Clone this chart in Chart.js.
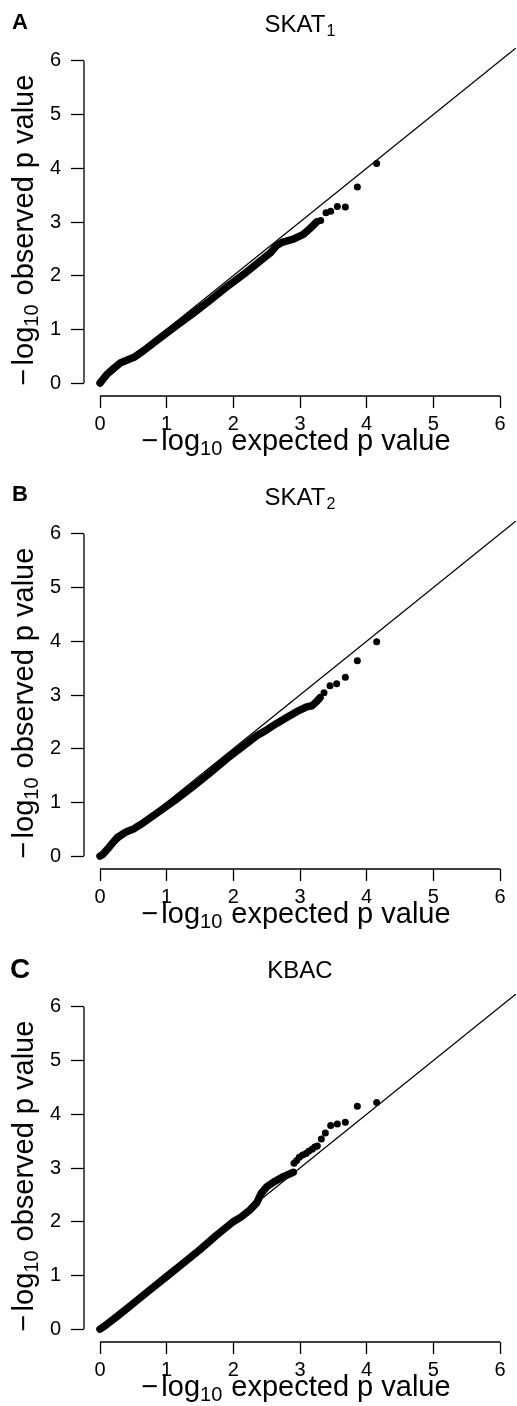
<!DOCTYPE html>
<html>
<head>
<meta charset="utf-8">
<script src="https://cdn.jsdelivr.net/npm/chart.js@4.4.0/dist/chart.umd.min.js"></script>
<style>
    html, body { margin: 0; padding: 0; background: #fff; overflow: hidden; width: 517px; height: 1406px; }
    .panel { position: absolute; left: 0; width: 520px; height: 472px; }
</style>
</head>
<body>
<div class="panel" style="top:0px"><canvas id="qq-a" width="520" height="472"></canvas></div>
<div class="panel" style="top:473px"><canvas id="qq-b" width="520" height="472"></canvas></div>
<div class="panel" style="top:946px"><canvas id="qq-c" width="520" height="472"></canvas></div>
<script>
// axis ticks (same on both axes) and the plotting range R used (0..6 plus 4%)
var tickValues = [0, 1, 2, 3, 4, 5, 6];
var axisRange = [-0.24, 6.24];
// y = x reference line
var refLine = [0, 6.24];

// SKAT1 : dense part of the QQ curve, then the separate points at the top
var skat1BandX = [0, 0.05, 0.11, 0.21, 0.31, 0.41, 0.51, 0.66, 0.91, 1.16, 1.41, 1.66, 1.91, 2.16, 2.40, 2.55, 2.65, 2.73, 2.90, 3.05, 3.15, 3.25];
var skat1BandY = [0, 0.08, 0.17, 0.28, 0.38, 0.43, 0.48, 0.61, 0.85, 1.08, 1.31, 1.55, 1.80, 2.03, 2.27, 2.42, 2.56, 2.62, 2.68, 2.77, 2.88, 3.00];
var skat1TailX = [3.31, 3.39, 3.46, 3.56, 3.68, 3.86, 4.15];
var skat1TailY = [3.03, 3.17, 3.20, 3.29, 3.28, 3.65, 4.09];

// SKAT2
var skat2BandX = [0, 0.04, 0.14, 0.26, 0.39, 0.51, 0.66, 0.91, 1.16, 1.41, 1.66, 1.91, 2.16, 2.35, 2.50, 2.65, 2.80, 2.95, 3.10, 3.18, 3.25, 3.30];
var skat2BandY = [0, 0.03, 0.17, 0.35, 0.45, 0.51, 0.63, 0.85, 1.07, 1.31, 1.56, 1.82, 2.06, 2.24, 2.35, 2.47, 2.58, 2.69, 2.78, 2.80, 2.88, 2.95];
var skat2TailX = [3.36, 3.45, 3.55, 3.68, 3.86, 4.15];
var skat2TailY = [3.04, 3.17, 3.21, 3.33, 3.64, 3.99];

// KBAC
var kbacBandX = [0, 0.05, 0.25, 0.50, 0.75, 1.00, 1.25, 1.50, 1.75, 2.00, 2.12, 2.25, 2.35, 2.42, 2.50, 2.62, 2.75, 2.90];
var kbacBandY = [0, 0.04, 0.23, 0.48, 0.73, 0.98, 1.23, 1.48, 1.75, 2.00, 2.09, 2.22, 2.35, 2.53, 2.65, 2.75, 2.84, 2.92];
var kbacTailX = [2.91, 2.95, 2.99, 3.04, 3.09, 3.13, 3.18, 3.22, 3.26, 3.32, 3.38, 3.46, 3.56, 3.68, 3.86, 4.15];
var kbacTailY = [3.09, 3.14, 3.20, 3.24, 3.27, 3.31, 3.35, 3.39, 3.41, 3.54, 3.65, 3.79, 3.82, 3.85, 4.15, 4.22];

var fontFamily = '"Liberation Sans", Arial, Helvetica, sans-serif';

function toPoints(xs, ys) {
    let pts = [];
    for (let i = 0; i < xs.length; i++) {
        pts.push({ x: xs[i], y: ys[i] });
    }
    return pts;
}

// "-log10 <rest>" with a subscript, centred on (0,0) after translate/rotate
function drawLogLabel(ctx, cx, cy, rest, rotate) {
    let big = '29px ' + fontFamily;
    let small = '20px ' + fontFamily;
    ctx.save();
    ctx.translate(cx, cy);
    if (rotate) ctx.rotate(-Math.PI / 2);
    ctx.fillStyle = '#000';
    ctx.textBaseline = 'alphabetic';
    ctx.textAlign = 'left';
    ctx.font = big;
    let wMinus = ctx.measureText('\u2212').width;
    let wLog = ctx.measureText('log').width;
    let wRest = ctx.measureText(rest).width;
    ctx.font = small;
    let wSub = ctx.measureText('10').width;
    let total = wMinus + 3 + wLog + wSub + 9 + wRest;
    let x = -total / 2;
    ctx.font = big;
    ctx.fillText('\u2212', x, 0);
    x += wMinus + 3;
    ctx.fillText('log', x, 0);
    x += wLog;
    ctx.font = small;
    ctx.fillText('10', x, 5);
    x += wSub + 9;
    ctx.font = big;
    ctx.fillText(rest, x, 0);
    ctx.restore();
}

var rStylePlugin = {
    id: 'rStyle',
    afterDraw: function (chart) {
        let ctx = chart.ctx;
        let xs = chart.scales.x;
        let ys = chart.scales.y;
        let o = chart.options.plugins.rStyle;

        // axis lines only from first to last tick, like R
        ctx.save();
        ctx.strokeStyle = '#000';
        ctx.lineWidth = 1.3;
        ctx.beginPath();
        ctx.moveTo(xs.getPixelForValue(tickValues[0]), xs.top);
        ctx.lineTo(xs.getPixelForValue(tickValues[tickValues.length - 1]), xs.top);
        ctx.moveTo(ys.right, ys.getPixelForValue(tickValues[0]));
        ctx.lineTo(ys.right, ys.getPixelForValue(tickValues[tickValues.length - 1]));
        ctx.stroke();
        ctx.restore();

        // panel letter
        ctx.save();
        ctx.fillStyle = '#000';
        ctx.textBaseline = 'alphabetic';
        ctx.textAlign = 'left';
        ctx.font = 'bold ' + o.letterSize + 'px ' + fontFamily;
        ctx.fillText(o.letter, o.letterX, o.letterY);

        // main title with optional subscript
        let mid = (chart.chartArea.left + chart.chartArea.right) / 2;
        ctx.font = '24px ' + fontFamily;
        let wMain = ctx.measureText(o.title).width;
        ctx.font = '16px ' + fontFamily;
        let wSub = o.titleSub ? ctx.measureText(o.titleSub).width + 1 : 0;
        let tx = mid - (wMain + wSub) / 2;
        ctx.font = '24px ' + fontFamily;
        ctx.fillText(o.title, tx, 32);
        if (o.titleSub) {
            ctx.font = '16px ' + fontFamily;
            ctx.fillText(o.titleSub, tx + wMain + 1, 36);
        }
        ctx.restore();

        drawLogLabel(ctx, 296, 450, 'expected p value', false);
        drawLogLabel(ctx, 33, 230, 'observed p value', true);
    }
};

function axisOptions(size, tickLength, padding) {
    return {
        type: 'linear',
        min: axisRange[0],
        max: axisRange[1],
        afterBuildTicks: function (scale) {
            scale.ticks = tickValues.map(v => ({ value: v }));
        },
        afterFit: function (scale) {
            if (scale.isHorizontal()) {
                scale.height = size;
            } else {
                scale.width = size;
            }
        },
        border: { display: false },
        grid: {
            drawOnChartArea: false,
            drawTicks: true,
            tickLength: tickLength,
            tickWidth: 1.3,
            tickColor: '#000'
        },
        ticks: {
            color: '#000',
            font: { family: fontFamily, size: 20 },
            padding: padding,
            maxRotation: 0,
            autoSkip: false
        }
    };
}

function createQQChart(id, letter, letterSize, letterX, letterY, title, titleSub, bandX, bandY, tailX, tailY) {
    return new Chart(id, {
        type: 'scatter',
        data: {
            datasets: [{
                data: toPoints(refLine, refLine),
                showLine: true,
                borderColor: '#000',
                borderWidth: 1.3,
                pointRadius: 0
            }, {
                data: toPoints(bandX, bandY),
                showLine: true,
                borderColor: '#000',
                borderWidth: 7.5,
                borderCapStyle: 'round',
                borderJoinStyle: 'round',
                pointRadius: 0
            }, {
                data: toPoints(tailX, tailY),
                backgroundColor: '#000',
                borderWidth: 0,
                pointRadius: 3.5
            }]
        },
        options: {
            responsive: false,
            animation: false,
            events: [],
            layout: { padding: { top: 48, right: 2, left: 0, bottom: 0 } },
            scales: {
                x: axisOptions(76, 12, 4),
                y: axisOptions(84, 13, 10)
            },
            plugins: {
                legend: { display: false },
                tooltip: { enabled: false },
                rStyle: {
                    letter: letter, letterSize: letterSize, letterX: letterX, letterY: letterY,
                    title: title, titleSub: titleSub
                }
            }
        },
        plugins: [rStylePlugin]
    });
}

createQQChart('qq-a', 'A', 22, 12, 29, 'SKAT', '1', skat1BandX, skat1BandY, skat1TailX, skat1TailY);
createQQChart('qq-b', 'B', 22, 12, 28, 'SKAT', '2', skat2BandX, skat2BandY, skat2TailX, skat2TailY);
createQQChart('qq-c', 'C', 28, 10, 32, 'KBAC', '', kbacBandX, kbacBandY, kbacTailX, kbacTailY);
</script>
</body>
</html>
